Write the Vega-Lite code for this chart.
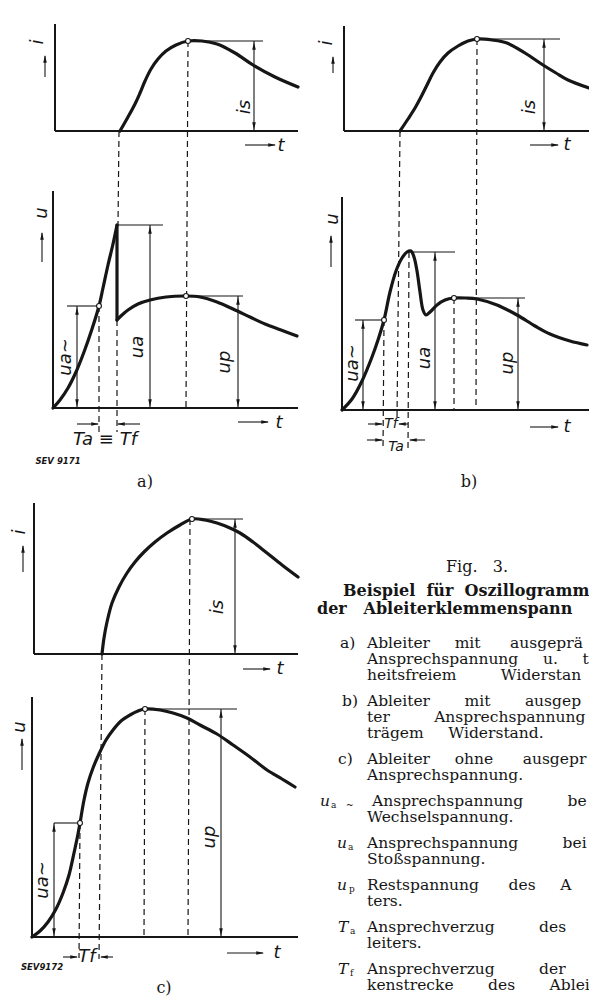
{
  "$schema": "https://vega.github.io/schema/vega-lite/v6.json",
  "width": 589,
  "height": 1001,
  "autosize": {"type": "none"},
  "padding": 0,
  "background": "white",
  "config": {"view": {"stroke": null}},
  "datasets": {
    "curves": [
      {"id":"a_i","ord":1,"x":120,"y":131},{"id":"a_i","ord":2,"x":128,"y":117},{"id":"a_i","ord":3,"x":135,"y":104},{"id":"a_i","ord":4,"x":140,"y":93},{"id":"a_i","ord":5,"x":145,"y":81},{"id":"a_i","ord":6,"x":151,"y":69},{"id":"a_i","ord":7,"x":158,"y":59},{"id":"a_i","ord":8,"x":166,"y":51},{"id":"a_i","ord":9,"x":176,"y":45},{"id":"a_i","ord":10,"x":188,"y":41},{"id":"a_i","ord":11,"x":202,"y":41},{"id":"a_i","ord":12,"x":217,"y":44},{"id":"a_i","ord":13,"x":235,"y":53},{"id":"a_i","ord":14,"x":253,"y":65},{"id":"a_i","ord":15,"x":275,"y":77},{"id":"a_i","ord":16,"x":298,"y":87},
      {"id":"a_u1","ord":1,"x":53,"y":408},{"id":"a_u1","ord":2,"x":60,"y":400},{"id":"a_u1","ord":3,"x":68,"y":388},{"id":"a_u1","ord":4,"x":76,"y":372},{"id":"a_u1","ord":5,"x":84,"y":352},{"id":"a_u1","ord":6,"x":92,"y":329},{"id":"a_u1","ord":7,"x":99,"y":306},{"id":"a_u1","ord":8,"x":103,"y":288},{"id":"a_u1","ord":9,"x":108,"y":265},{"id":"a_u1","ord":10,"x":113,"y":244},{"id":"a_u1","ord":11,"x":117,"y":225},
      {"id":"a_drop","ord":1,"x":117,"y":225},{"id":"a_drop","ord":2,"x":117,"y":320},
      {"id":"a_u2","ord":1,"x":117,"y":320},{"id":"a_u2","ord":2,"x":122,"y":315},{"id":"a_u2","ord":3,"x":128,"y":310},{"id":"a_u2","ord":4,"x":138,"y":304},{"id":"a_u2","ord":5,"x":150,"y":300},{"id":"a_u2","ord":6,"x":166,"y":297},{"id":"a_u2","ord":7,"x":186,"y":296},{"id":"a_u2","ord":8,"x":200,"y":297},{"id":"a_u2","ord":9,"x":217,"y":302},{"id":"a_u2","ord":10,"x":233,"y":309},{"id":"a_u2","ord":11,"x":250,"y":317},{"id":"a_u2","ord":12,"x":265,"y":324},{"id":"a_u2","ord":13,"x":281,"y":330},{"id":"a_u2","ord":14,"x":297,"y":336},
      {"id":"b_i","ord":1,"x":400,"y":131},{"id":"b_i","ord":2,"x":408,"y":119},{"id":"b_i","ord":3,"x":415,"y":108},{"id":"b_i","ord":4,"x":421,"y":97},{"id":"b_i","ord":5,"x":427,"y":85},{"id":"b_i","ord":6,"x":433,"y":73},{"id":"b_i","ord":7,"x":440,"y":62},{"id":"b_i","ord":8,"x":448,"y":53},{"id":"b_i","ord":9,"x":458,"y":46},{"id":"b_i","ord":10,"x":468,"y":41},{"id":"b_i","ord":11,"x":477,"y":39},{"id":"b_i","ord":12,"x":492,"y":40},{"id":"b_i","ord":13,"x":507,"y":43},{"id":"b_i","ord":14,"x":525,"y":53},{"id":"b_i","ord":15,"x":543,"y":65},{"id":"b_i","ord":16,"x":556,"y":73},{"id":"b_i","ord":17,"x":568,"y":80},{"id":"b_i","ord":18,"x":589,"y":88},
      {"id":"b_u","ord":1,"x":342,"y":410},{"id":"b_u","ord":2,"x":352,"y":399},{"id":"b_u","ord":3,"x":362,"y":381},{"id":"b_u","ord":4,"x":372,"y":357},{"id":"b_u","ord":5,"x":378,"y":340},{"id":"b_u","ord":6,"x":384,"y":320},{"id":"b_u","ord":7,"x":390,"y":292},{"id":"b_u","ord":8,"x":396,"y":271},{"id":"b_u","ord":9,"x":402,"y":258},{"id":"b_u","ord":10,"x":407,"y":252},{"id":"b_u","ord":11,"x":411,"y":251},{"id":"b_u","ord":12,"x":414,"y":257},{"id":"b_u","ord":13,"x":417,"y":271},{"id":"b_u","ord":14,"x":420,"y":292},{"id":"b_u","ord":15,"x":423,"y":310},{"id":"b_u","ord":16,"x":426,"y":315},{"id":"b_u","ord":17,"x":430,"y":312},{"id":"b_u","ord":18,"x":437,"y":305},{"id":"b_u","ord":19,"x":445,"y":300},{"id":"b_u","ord":20,"x":454,"y":298},{"id":"b_u","ord":21,"x":466,"y":298},{"id":"b_u","ord":22,"x":477,"y":299},{"id":"b_u","ord":23,"x":497,"y":305},{"id":"b_u","ord":24,"x":517,"y":315},{"id":"b_u","ord":25,"x":535,"y":326},{"id":"b_u","ord":26,"x":550,"y":334},{"id":"b_u","ord":27,"x":570,"y":341},{"id":"b_u","ord":28,"x":587,"y":345},
      {"id":"c_i","ord":1,"x":102,"y":654},{"id":"c_i","ord":2,"x":104,"y":638},{"id":"c_i","ord":3,"x":107,"y":622},{"id":"c_i","ord":4,"x":112,"y":603},{"id":"c_i","ord":5,"x":119,"y":587},{"id":"c_i","ord":6,"x":127,"y":573},{"id":"c_i","ord":7,"x":135,"y":562},{"id":"c_i","ord":8,"x":144,"y":552},{"id":"c_i","ord":9,"x":155,"y":542},{"id":"c_i","ord":10,"x":167,"y":533},{"id":"c_i","ord":11,"x":180,"y":525},{"id":"c_i","ord":12,"x":192,"y":519},{"id":"c_i","ord":13,"x":205,"y":520},{"id":"c_i","ord":14,"x":217,"y":523},{"id":"c_i","ord":15,"x":230,"y":528},{"id":"c_i","ord":16,"x":240,"y":533},{"id":"c_i","ord":17,"x":253,"y":542},{"id":"c_i","ord":18,"x":267,"y":553},{"id":"c_i","ord":19,"x":282,"y":565},{"id":"c_i","ord":20,"x":298,"y":577},
      {"id":"c_u","ord":1,"x":32,"y":937},{"id":"c_u","ord":2,"x":40,"y":931},{"id":"c_u","ord":3,"x":48,"y":922},{"id":"c_u","ord":4,"x":56,"y":909},{"id":"c_u","ord":5,"x":63,"y":893},{"id":"c_u","ord":6,"x":69,"y":875},{"id":"c_u","ord":7,"x":74,"y":853},{"id":"c_u","ord":8,"x":78,"y":834},{"id":"c_u","ord":9,"x":80,"y":823},{"id":"c_u","ord":10,"x":84,"y":800},{"id":"c_u","ord":11,"x":88,"y":783},{"id":"c_u","ord":12,"x":93,"y":768},{"id":"c_u","ord":13,"x":99,"y":754},{"id":"c_u","ord":14,"x":106,"y":740},{"id":"c_u","ord":15,"x":113,"y":730},{"id":"c_u","ord":16,"x":121,"y":721},{"id":"c_u","ord":17,"x":130,"y":715},{"id":"c_u","ord":18,"x":138,"y":711},{"id":"c_u","ord":19,"x":145,"y":709},{"id":"c_u","ord":20,"x":160,"y":710},{"id":"c_u","ord":21,"x":173,"y":713},{"id":"c_u","ord":22,"x":187,"y":718},{"id":"c_u","ord":23,"x":200,"y":725},{"id":"c_u","ord":24,"x":217,"y":734},{"id":"c_u","ord":25,"x":233,"y":745},{"id":"c_u","ord":26,"x":250,"y":757},{"id":"c_u","ord":27,"x":267,"y":770},{"id":"c_u","ord":28,"x":282,"y":779},{"id":"c_u","ord":29,"x":295,"y":787}
    ],
    "axes": [
      {"x":55,"y":24,"x2":55,"y2":131},{"x":55,"y":131,"x2":298,"y2":131},
      {"x":53,"y":191,"x2":53,"y2":408},{"x":53,"y":408,"x2":298,"y2":408},
      {"x":344,"y":26,"x2":344,"y2":131},{"x":344,"y":131,"x2":589,"y2":131},
      {"x":342,"y":197,"x2":342,"y2":410},{"x":342,"y":410,"x2":589,"y2":410},
      {"x":34,"y":503,"x2":34,"y2":654},{"x":34,"y":654,"x2":298,"y2":654},
      {"x":32,"y":697,"x2":32,"y2":937},{"x":32,"y":937,"x2":298,"y2":937}
    ],
    "thin": [
      {"x":188,"y":41,"x2":263,"y2":41},{"x":117,"y":225,"x2":163,"y2":225},{"x":67,"y":306,"x2":99,"y2":306},{"x":186,"y":296,"x2":243,"y2":296},
      {"x":254,"y":41,"x2":254,"y2":131},{"x":150,"y":225,"x2":150,"y2":408},{"x":77,"y":306,"x2":77,"y2":408},{"x":238,"y":296,"x2":238,"y2":408},
      {"x":245,"y":145,"x2":275,"y2":145},{"x":238,"y":422,"x2":268,"y2":422},{"x":45,"y":77,"x2":45,"y2":56},{"x":42,"y":262,"x2":42,"y2":233},
      {"x":77,"y":424,"x2":98,"y2":424},{"x":140,"y":424,"x2":118,"y2":424},
      {"x":477,"y":39,"x2":560,"y2":39},{"x":410,"y":252,"x2":455,"y2":252},{"x":355,"y":320,"x2":384,"y2":320},{"x":454,"y":298,"x2":525,"y2":298},
      {"x":544,"y":39,"x2":544,"y2":131},{"x":435,"y":252,"x2":435,"y2":410},{"x":363,"y":320,"x2":363,"y2":410},{"x":518,"y":298,"x2":518,"y2":410},
      {"x":530,"y":145,"x2":558,"y2":145},{"x":530,"y":427,"x2":558,"y2":427},{"x":333,"y":73,"x2":333,"y2":57},{"x":331,"y":267,"x2":331,"y2":236},
      {"x":368,"y":424,"x2":382,"y2":424},{"x":408,"y":424,"x2":399,"y2":424},{"x":367,"y":440,"x2":382,"y2":440},{"x":425,"y":440,"x2":410,"y2":440},
      {"x":192,"y":519,"x2":243,"y2":519},{"x":145,"y":709,"x2":237,"y2":709},{"x":54,"y":823,"x2":80,"y2":823},
      {"x":235,"y":519,"x2":235,"y2":654},{"x":221,"y":709,"x2":221,"y2":937},{"x":54,"y":823,"x2":54,"y2":937},
      {"x":243,"y":669,"x2":270,"y2":669},{"x":227,"y":953,"x2":263,"y2":953},{"x":23,"y":572,"x2":23,"y2":546},{"x":22,"y":770,"x2":22,"y2":739},
      {"x":63,"y":957,"x2":77,"y2":957},{"x":113,"y":957,"x2":101,"y2":957}
    ],
    "dashed": [
      {"x":119,"y":131,"x2":118,"y2":225},{"x":117,"y":320,"x2":117,"y2":432},{"x":188,"y":41,"x2":186,"y2":408},{"x":99,"y":306,"x2":99,"y2":432},
      {"x":400,"y":131,"x2":397,"y2":418},{"x":477,"y":39,"x2":476,"y2":410},{"x":384,"y":320,"x2":383,"y2":450},{"x":409,"y":252,"x2":408,"y2":450},{"x":454,"y":298,"x2":454,"y2":410},
      {"x":102,"y":654,"x2":99,"y2":959},{"x":190,"y":519,"x2":188,"y2":937},{"x":145,"y":709,"x2":144,"y2":937},{"x":80,"y":823,"x2":79,"y2":958}
    ],
    "heads": [
      {"x":254,"y":42,"dir":"up"},{"x":254,"y":130,"dir":"down"},{"x":150,"y":226,"dir":"up"},{"x":150,"y":407,"dir":"down"},{"x":77,"y":307,"dir":"up"},{"x":77,"y":407,"dir":"down"},{"x":238,"y":297,"dir":"up"},{"x":238,"y":407,"dir":"down"},
      {"x":276,"y":145,"dir":"right"},{"x":269,"y":422,"dir":"right"},{"x":45,"y":55,"dir":"up"},{"x":42,"y":232,"dir":"up"},{"x":99,"y":424,"dir":"right"},{"x":117,"y":424,"dir":"left"},
      {"x":544,"y":40,"dir":"up"},{"x":544,"y":130,"dir":"down"},{"x":435,"y":253,"dir":"up"},{"x":435,"y":409,"dir":"down"},{"x":363,"y":321,"dir":"up"},{"x":363,"y":409,"dir":"down"},{"x":518,"y":299,"dir":"up"},{"x":518,"y":409,"dir":"down"},
      {"x":559,"y":145,"dir":"right"},{"x":559,"y":427,"dir":"right"},{"x":333,"y":56,"dir":"up"},{"x":331,"y":235,"dir":"up"},{"x":383,"y":424,"dir":"right"},{"x":398,"y":424,"dir":"left"},{"x":383,"y":440,"dir":"right"},{"x":409,"y":440,"dir":"left"},
      {"x":235,"y":520,"dir":"up"},{"x":235,"y":653,"dir":"down"},{"x":221,"y":710,"dir":"up"},{"x":221,"y":936,"dir":"down"},{"x":54,"y":824,"dir":"up"},{"x":54,"y":936,"dir":"down"},
      {"x":271,"y":669,"dir":"right"},{"x":264,"y":953,"dir":"right"},{"x":23,"y":545,"dir":"up"},{"x":22,"y":738,"dir":"up"},{"x":78,"y":957,"dir":"right"},{"x":100,"y":957,"dir":"left"}
    ],
    "dots": [
      {"x":188,"y":41},{"x":99,"y":306},{"x":186,"y":296},{"x":477,"y":39},{"x":384,"y":320},{"x":454,"y":298},{"x":192,"y":519},{"x":145,"y":709},{"x":80,"y":823}
    ],
    "hand": [
      {"x":281,"y":146,"text":"t"},{"x":279,"y":423,"text":"t"},{"x":105,"y":440,"text":"Ta ≡ Tf"},
      {"x":567,"y":145,"text":"t"},{"x":567,"y":427,"text":"t"},
      {"x":280,"y":669,"text":"t"},{"x":277,"y":953,"text":"t"},{"x":87,"y":957,"text":"Tf"}
    ],
    "handsmall": [
      {"x":391,"y":424,"text":"Tf"},{"x":396,"y":447,"text":"Ta"}
    ],
    "handrot": [
      {"x":38,"y":42,"text":"i"},{"x":245,"y":107,"text":"is"},{"x":42,"y":213,"text":"u"},{"x":66,"y":357,"text":"ua~"},{"x":138,"y":347,"text":"ua"},{"x":225,"y":362,"text":"up"},
      {"x":327,"y":43,"text":"i"},{"x":530,"y":107,"text":"is"},{"x":333,"y":219,"text":"u"},{"x":353,"y":363,"text":"ua~"},{"x":425,"y":358,"text":"ua"},{"x":508,"y":363,"text":"up"},
      {"x":20,"y":532,"text":"i"},{"x":218,"y":607,"text":"is"},{"x":20,"y":727,"text":"u"},{"x":43,"y":880,"text":"ua~"},{"x":210,"y":837,"text":"up"}
    ],
    "sev": [
      {"x":58,"y":461,"text":"SEV 9171"},{"x":42,"y":967,"text":"SEV9172"}
    ],
    "centered": [
      {"x":145,"y":482,"text":"a)"},{"x":469,"y":482,"text":"b)"},{"x":164,"y":988,"text":"c)"},{"x":477,"y":567,"text":"Fig.\u00a0\u00a0\u00a03."}
    ],
    "bold": [
      {"x":343,"y":591,"text":"Beispiel\u00a0\u00a0für\u00a0\u00a0Oszillogramm"},
      {"x":317,"y":609,"text":"der\u00a0\u00a0\u00a0Ableiterklemmenspann"}
    ],
    "caption": [
      {"x":340,"y":643,"text":"a)"},
      {"x":367,"y":643,"text":"Ableiter\u00a0\u00a0\u00a0\u00a0\u00a0mit\u00a0\u00a0\u00a0\u00a0\u00a0\u00a0ausgeprä"},
      {"x":367,"y":659,"text":"Ansprechspannung\u00a0\u00a0\u00a0\u00a0\u00a0u.\u00a0\u00a0\u00a0\u00a0\u00a0t"},
      {"x":367,"y":675,"text":"heitsfreiem\u00a0\u00a0\u00a0\u00a0\u00a0\u00a0\u00a0\u00a0\u00a0Widerstan"},
      {"x":342,"y":701,"text":"b)"},
      {"x":367,"y":701,"text":"Ableiter\u00a0\u00a0\u00a0\u00a0\u00a0\u00a0\u00a0mit\u00a0\u00a0\u00a0\u00a0\u00a0\u00a0\u00a0ausgep"},
      {"x":367,"y":717,"text":"ter\u00a0\u00a0\u00a0\u00a0\u00a0\u00a0\u00a0\u00a0\u00a0Ansprechspannung"},
      {"x":367,"y":733,"text":"trägem\u00a0\u00a0\u00a0\u00a0\u00a0Widerstand."},
      {"x":338,"y":759,"text":"c)"},
      {"x":367,"y":759,"text":"Ableiter\u00a0\u00a0\u00a0\u00a0\u00a0ohne\u00a0\u00a0\u00a0\u00a0\u00a0\u00a0ausgepr"},
      {"x":367,"y":775,"text":"Ansprechspannung."},
      {"x":372,"y":801,"text":"Ansprechspannung\u00a0\u00a0\u00a0\u00a0\u00a0\u00a0\u00a0\u00a0\u00a0be"},
      {"x":367,"y":817,"text":"Wechselspannung."},
      {"x":367,"y":843,"text":"Ansprechspannung\u00a0\u00a0\u00a0\u00a0\u00a0\u00a0\u00a0\u00a0\u00a0bei"},
      {"x":367,"y":859,"text":"Stoßspannung."},
      {"x":367,"y":885,"text":"Restspannung\u00a0\u00a0\u00a0\u00a0\u00a0\u00a0des\u00a0\u00a0\u00a0\u00a0\u00a0A"},
      {"x":367,"y":901,"text":"ters."},
      {"x":367,"y":927,"text":"Ansprechverzug\u00a0\u00a0\u00a0\u00a0\u00a0\u00a0\u00a0\u00a0\u00a0des"},
      {"x":367,"y":943,"text":"leiters."},
      {"x":367,"y":969,"text":"Ansprechverzug\u00a0\u00a0\u00a0\u00a0\u00a0\u00a0\u00a0\u00a0\u00a0der"},
      {"x":367,"y":985,"text":"kenstrecke\u00a0\u00a0\u00a0\u00a0\u00a0\u00a0\u00a0des\u00a0\u00a0\u00a0\u00a0\u00a0\u00a0\u00a0Ablei"}
    ],
    "capsym": [
      {"x":320,"y":801,"text":"u"},{"x":337,"y":843,"text":"u"},{"x":337,"y":885,"text":"u"},{"x":338,"y":927,"text":"T"},{"x":338,"y":969,"text":"T"}
    ],
    "capsub": [
      {"x":331,"y":805,"text":"a"},{"x":346,"y":805,"text":"~"},{"x":348,"y":847,"text":"a"},{"x":349,"y":889,"text":"p"},{"x":350,"y":931,"text":"a"},{"x":350,"y":973,"text":"f"}
    ]
  },
  "layer": [
    {
      "data": {"name": "dashed"},
      "mark": {"type": "rule", "color": "#161616", "strokeWidth": 1.2, "strokeDash": [6, 4]},
      "encoding": {
        "x": {"field": "x", "type": "quantitative", "scale": {"domain": [0, 589], "nice": false, "zero": false}, "axis": null},
        "y": {"field": "y", "type": "quantitative", "scale": {"domain": [0, 1001], "nice": false, "zero": false, "reverse": true}, "axis": null},
        "x2": {"field": "x2"}, "y2": {"field": "y2"}
      }
    },
    {
      "data": {"name": "thin"},
      "mark": {"type": "rule", "color": "#161616", "strokeWidth": 1.1},
      "encoding": {
        "x": {"field": "x", "type": "quantitative", "axis": null},
        "y": {"field": "y", "type": "quantitative", "axis": null},
        "x2": {"field": "x2"}, "y2": {"field": "y2"}
      }
    },
    {
      "data": {"name": "axes"},
      "mark": {"type": "rule", "color": "#161616", "strokeWidth": 2},
      "encoding": {
        "x": {"field": "x", "type": "quantitative", "axis": null},
        "y": {"field": "y", "type": "quantitative", "axis": null},
        "x2": {"field": "x2"}, "y2": {"field": "y2"}
      }
    },
    {
      "data": {"name": "curves"},
      "mark": {"type": "line", "color": "#161616", "strokeWidth": 3.2, "interpolate": "catmull-rom", "strokeCap": "round", "strokeJoin": "round"},
      "encoding": {
        "x": {"field": "x", "type": "quantitative", "axis": null},
        "y": {"field": "y", "type": "quantitative", "axis": null},
        "detail": {"field": "id"},
        "order": {"field": "ord", "type": "quantitative"}
      }
    },
    {
      "data": {"name": "heads"},
      "mark": {"type": "point", "filled": true, "color": "#161616", "opacity": 1, "size": 50, "strokeWidth": 0},
      "encoding": {
        "x": {"field": "x", "type": "quantitative", "axis": null},
        "y": {"field": "y", "type": "quantitative", "axis": null},
        "shape": {"field": "dir", "type": "nominal", "legend": null, "scale": {"domain": ["up", "down", "left", "right"], "range": ["M0,0L-0.5,2.2L0.5,2.2Z", "M0,0L-0.5,-2.2L0.5,-2.2Z", "M0,0L2.2,-0.5L2.2,0.5Z", "M0,0L-2.2,-0.5L-2.2,0.5Z"]}}
      }
    },
    {
      "data": {"name": "dots"},
      "mark": {"type": "point", "shape": "circle", "filled": true, "fill": "white", "stroke": "#161616", "strokeWidth": 1.1, "size": 24, "opacity": 1},
      "encoding": {
        "x": {"field": "x", "type": "quantitative", "axis": null},
        "y": {"field": "y", "type": "quantitative", "axis": null}
      }
    },
    {
      "data": {"name": "hand"},
      "mark": {"type": "text", "font": "DejaVu Sans", "fontStyle": "italic", "fontSize": 18, "align": "center", "baseline": "middle", "color": "#161616"},
      "encoding": {
        "x": {"field": "x", "type": "quantitative", "axis": null},
        "y": {"field": "y", "type": "quantitative", "axis": null},
        "text": {"field": "text"}
      }
    },
    {
      "data": {"name": "handsmall"},
      "mark": {"type": "text", "font": "DejaVu Sans", "fontStyle": "italic", "fontSize": 14, "align": "center", "baseline": "middle", "color": "#161616"},
      "encoding": {
        "x": {"field": "x", "type": "quantitative", "axis": null},
        "y": {"field": "y", "type": "quantitative", "axis": null},
        "text": {"field": "text"}
      }
    },
    {
      "data": {"name": "handrot"},
      "mark": {"type": "text", "font": "DejaVu Sans", "fontStyle": "italic", "fontSize": 18, "angle": 270, "align": "center", "baseline": "middle", "color": "#161616"},
      "encoding": {
        "x": {"field": "x", "type": "quantitative", "axis": null},
        "y": {"field": "y", "type": "quantitative", "axis": null},
        "text": {"field": "text"}
      }
    },
    {
      "data": {"name": "sev"},
      "mark": {"type": "text", "font": "DejaVu Sans", "fontStyle": "italic", "fontWeight": "bold", "fontSize": 8.5, "align": "center", "baseline": "middle", "color": "#161616"},
      "encoding": {
        "x": {"field": "x", "type": "quantitative", "axis": null},
        "y": {"field": "y", "type": "quantitative", "axis": null},
        "text": {"field": "text"}
      }
    },
    {
      "data": {"name": "centered"},
      "mark": {"type": "text", "font": "DejaVu Serif", "fontSize": 16, "align": "center", "baseline": "middle", "color": "#161616"},
      "encoding": {
        "x": {"field": "x", "type": "quantitative", "axis": null},
        "y": {"field": "y", "type": "quantitative", "axis": null},
        "text": {"field": "text"}
      }
    },
    {
      "data": {"name": "bold"},
      "mark": {"type": "text", "font": "DejaVu Serif", "fontWeight": "bold", "fontSize": 16, "align": "left", "baseline": "middle", "color": "#161616"},
      "encoding": {
        "x": {"field": "x", "type": "quantitative", "axis": null},
        "y": {"field": "y", "type": "quantitative", "axis": null},
        "text": {"field": "text"}
      }
    },
    {
      "data": {"name": "caption"},
      "mark": {"type": "text", "font": "DejaVu Serif", "fontSize": 15.5, "align": "left", "baseline": "middle", "color": "#161616"},
      "encoding": {
        "x": {"field": "x", "type": "quantitative", "axis": null},
        "y": {"field": "y", "type": "quantitative", "axis": null},
        "text": {"field": "text"}
      }
    },
    {
      "data": {"name": "capsym"},
      "mark": {"type": "text", "font": "DejaVu Serif", "fontStyle": "italic", "fontSize": 15.5, "align": "left", "baseline": "middle", "color": "#161616"},
      "encoding": {
        "x": {"field": "x", "type": "quantitative", "axis": null},
        "y": {"field": "y", "type": "quantitative", "axis": null},
        "text": {"field": "text"}
      }
    },
    {
      "data": {"name": "capsub"},
      "mark": {"type": "text", "font": "DejaVu Serif", "fontSize": 9, "align": "left", "baseline": "middle", "color": "#161616"},
      "encoding": {
        "x": {"field": "x", "type": "quantitative", "axis": null},
        "y": {"field": "y", "type": "quantitative", "axis": null},
        "text": {"field": "text"}
      }
    }
  ]
}
